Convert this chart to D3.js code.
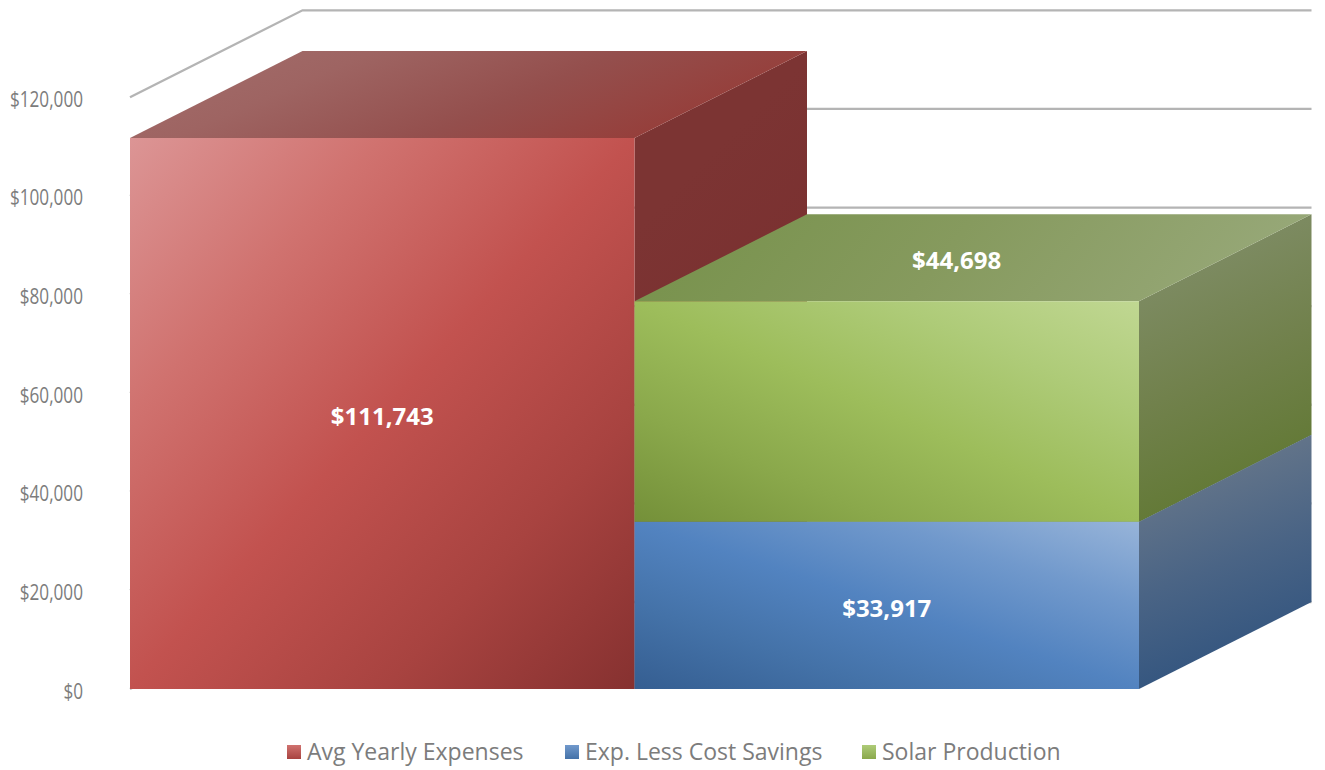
<!DOCTYPE html>
<html>
<head>
<meta charset="utf-8">
<style>
  html, body { margin: 0; padding: 0; background: #fff; }
  svg { display: block; }
  text { font-family: "Open Sans", "Noto Sans", sans-serif; }
</style>
<script src="https://cdn.jsdelivr.net/npm/d3@7/dist/d3.min.js"></script>
</head>
<body>
<svg id="chart" width="1325" height="770"></svg>
<script>
// Yearly cost comparison, drawn as stacked columns in an oblique 3D projection.
const categories = ["Expenses", "Savings"];
const seriesNames = ["Avg Yearly Expenses", "Exp. Less Cost Savings", "Solar Production"];
const seriesCategory = ["Expenses", "Savings", "Savings"];
const seriesBase = [0, 0, 33917];
const seriesValues = [111743, 33917, 44698];
const tickValues = [0, 20000, 40000, 60000, 80000, 100000, 120000];

// Shading for each series, as evenly spaced gradient stops.
const frontShades = [
  ["#dc9595", "#d0726f", "#c2524f", "#a84340", "#863130"],
  ["#97b4d9", "#7199cc", "#5283c0", "#4472a8", "#355e91"],
  ["#c0d792", "#aecb78", "#9dbd5b", "#8aa84b", "#749039"]
];
const topShades = [
  ["#a36f6d", "#9e6462", "#944f4d", "#963d39"],
  ["#5f7a9a", "#4a6d96", "#3f628d"],
  ["#76914a", "#869a5e", "#97a878"]
];
const sideShades = [
  ["#7c3433", "#7a3030", "#772c2d"],
  ["#617389", "#4a6485", "#365780"],
  ["#7c8a60", "#71814c", "#647a38"]
];

const depthX = 172.5, depthY = -87;

const x = d3.scaleBand().domain(categories).range([130, 1139]).padding(0);
const y = d3.scaleLinear().domain([0, 120000]).range([689, 97.3]);

const svg = d3.select("#chart");
const defs = svg.append("defs");

function addGradient(id, stops, corners) {
  const g = defs.append("linearGradient").attr("id", id)
    .attr("x1", corners[0]).attr("y1", corners[1])
    .attr("x2", corners[2]).attr("y2", corners[3]);
  stops.forEach((c, i) => g.append("stop")
    .attr("offset", i / (stops.length - 1)).attr("stop-color", c));
}

seriesNames.forEach((_, i) => {
  // Red is lit from the top left; blue and green from the top right.
  addGradient("front" + i, frontShades[i], i === 0 ? [0, 0, 1, 1] : [1, 0, 0, 1]);
  addGradient("top" + i, topShades[i], i === 0 ? [0, 0, 1, 0.3] : [0, 0, 1, 0.1]);
  addGradient("side" + i, sideShades[i], [0, 0.28, 0.18, 0.95]);
});

// Value axis: labels only, its domain line and ticks are hidden. The digits are
// set condensed so the tall numerals keep a narrow column.
const axis = d3.axisLeft(y)
  .tickValues(tickValues)
  .tickSize(0)
  .tickPadding(0)
  .tickFormat(d => "$" + d3.format(",")(d));
const axisG = svg.append("g").attr("transform", "translate(83,2) scale(0.78,1)").call(axis);
axisG.select(".domain").remove();
axisG.selectAll("text")
  .attr("fill", "#7c7c7c")
  .attr("font-size", 22);

// Gridlines on the back wall, with the floor-to-wall diagonal at each value.
const line = d3.line();
const gridG = svg.append("g").attr("fill", "none").attr("stroke", "#b4b4b4").attr("stroke-width", 2.3);
gridG.selectAll("path").data(tickValues).join("path")
  .attr("d", d => line([
    [x.range()[0], y(d)],
    [x.range()[0] + depthX, y(d) + depthY],
    [x.range()[1] + depthX, y(d) + depthY]
  ]));

// Each column is three faces, painted from the back series forward.
const barG = svg.append("g");
seriesValues.forEach((v, i) => {
  const x0 = x(seriesCategory[i]);
  const x1 = x0 + x.bandwidth();
  const yb = y(seriesBase[i]);
  const yt = y(seriesBase[i] + v);
  const g = barG.append("g");
  g.append("path").attr("fill", `url(#side${i})`).attr("d", line([
    [x1, yt], [x1 + depthX, yt + depthY], [x1 + depthX, yb + depthY], [x1, yb]
  ]) + "Z");
  g.append("path").attr("fill", `url(#top${i})`).attr("d", line([
    [x0, yt], [x0 + depthX, yt + depthY], [x1 + depthX, yt + depthY], [x1, yt]
  ]) + "Z");
  g.append("path").attr("fill", `url(#front${i})`).attr("d", line([
    [x0, yt], [x1, yt], [x1, yb], [x0, yb]
  ]) + "Z");
});

// Value labels: the two lower ones on the front face, the solar one on the top face.
const labelG = svg.append("g")
  .attr("fill", "#fff").attr("font-weight", 700).attr("font-size", 24)
  .attr("text-anchor", "middle");
seriesValues.forEach((v, i) => {
  const cx = x(seriesCategory[i]) + x.bandwidth() / 2;
  const yb = y(seriesBase[i]);
  const yt = y(seriesBase[i] + v);
  const onTop = i === 2;
  labelG.append("text")
    .attr("x", onTop ? cx + depthX * 0.405 : cx)
    .attr("y", onTop ? yt + depthY * 0.47 : (yb + yt) / 2 + 3)
    .attr("dy", "0.35em")
    .text("$" + d3.format(",")(v));
});

// Legend row below the plot.
const legendX = [287, 565, 862];
const legendG = svg.append("g");
seriesNames.forEach((name, i) => {
  addGradient("key" + i, [frontShades[i][1], frontShades[i][3]], [0, 0, 0, 1]);
  legendG.append("rect")
    .attr("x", legendX[i]).attr("y", 745).attr("width", 14).attr("height", 14)
    .attr("fill", `url(#key${i})`);
  legendG.append("text")
    .attr("x", legendX[i] + 20).attr("y", 752).attr("dy", "0.35em")
    .attr("fill", "#7c7c7c").attr("font-size", 23)
    .text(name);
});
</script>
</body>
</html>
